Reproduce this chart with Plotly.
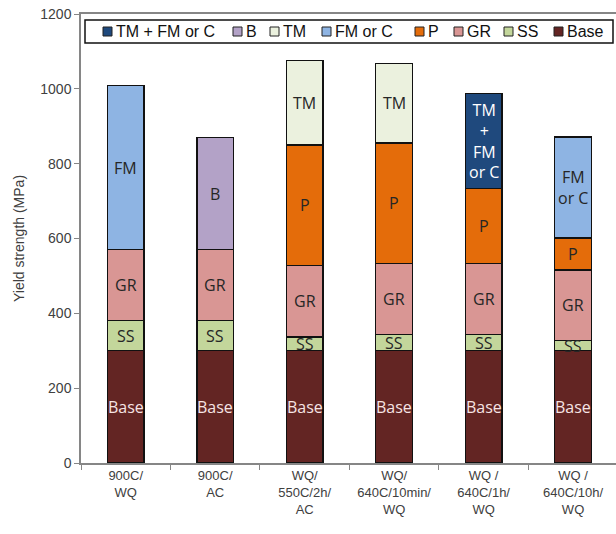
import plotly.graph_objects as go

# Heat-treatment conditions (x categories)
categories = [
    "900C/<br>WQ",
    "900C/<br>AC",
    "WQ/<br>550C/2h/<br>AC",
    "WQ/<br>640C/10min/<br>WQ",
    "WQ /<br>640C/1h/<br>WQ",
    "WQ /<br>640C/10h/<br>WQ",
]

# Strength contributions (MPa), stacked bottom to top
base = [300, 300, 300, 300, 300, 300]
ss = [80, 80, 37, 44, 44, 27]
gr = [190, 190, 190, 190, 190, 189]
p = [None, None, 323, 321, 200, 85]
fm_or_c = [438, None, None, None, None, 270]
tm = [None, None, 225, 212, None, None]
b = [None, 300, None, None, None, None]
tm_fm_or_c = [None, None, None, None, 253, None]

# In-bar segment labels
base_labels = ["Base"] * 6
ss_labels = ["SS"] * 6
gr_labels = ["GR"] * 6
p_labels = ["P"] * 6
fm_labels = ["FM", None, None, None, None, "FM<br>or C"]
tm_labels = ["TM"] * 6
b_labels = ["B"] * 6
tmfm_labels = ["TM<br>+<br>FM<br>or C"] * 6

# name, values, fill, labels, label colour
series = [
    ("Base", base, "#632523", base_labels, "#f6e4e4"),
    ("SS", ss, "#c3d69b", ss_labels, "#262626"),
    ("GR", gr, "#d99694", gr_labels, "#262626"),
    ("P", p, "#e46c0a", p_labels, "#262626"),
    ("FM or C", fm_or_c, "#8eb4e3", fm_labels, "#262626"),
    ("TM", tm, "#ebf1de", tm_labels, "#262626"),
    ("B", b, "#b3a2c7", b_labels, "#262626"),
    ("TM + FM or C", tm_fm_or_c, "#1f497d", tmfm_labels, "#ffffff"),
]

# Figure geometry (px)
W, H = 616, 534
M_L, M_R, M_T, M_B = 81, 0, 14, 71
PW, PH = W - M_L - M_R, H - M_T - M_B


def px_x(px):
    return (px - M_L) / PW


def px_y(py):
    return 1 - (py - M_T) / PH


fig = go.Figure()
annotations = []
shapes = []
bottoms = [0.0] * len(categories)

for name, vals, color, labels, lcolor in series:
    fig.add_trace(go.Bar(
        name=name,
        x=categories,
        y=vals,
        marker=dict(color=color, line=dict(color="#111111", width=1.3)),
        showlegend=False,
        hoverinfo="skip",
    ))
    for i, v in enumerate(vals):
        if v is None:
            continue
        if labels[i]:
            annotations.append(dict(
                x=categories[i], y=bottoms[i] + v / 2,
                xref="x", yref="y", text=labels[i], showarrow=False,
                font=dict(family="Open Sans", size=16, color=lcolor),
            ))
        bottoms[i] += v

# Single-row key along the top of the plot, listed top-of-stack first
legend_box = (85, 20, 613, 43)
key_left = [103, 233, 270, 322, 415, 454, 504, 554]
key_size = 9
key_mid = (legend_box[1] + legend_box[3]) / 2

shapes.append(dict(
    type="rect", xref="paper", yref="paper",
    x0=px_x(legend_box[0]), x1=px_x(legend_box[2]),
    y0=px_y(legend_box[3]), y1=px_y(legend_box[1]),
    line=dict(color="#111111", width=1.5), fillcolor="white", layer="above",
))
for (name, _, color, _, _), kx in zip(reversed(series), key_left):
    shapes.append(dict(
        type="rect", xref="paper", yref="paper",
        x0=px_x(kx), x1=px_x(kx + key_size),
        y0=px_y(key_mid + key_size / 2), y1=px_y(key_mid - key_size / 2),
        line=dict(color="#222222", width=1), fillcolor=color, layer="above",
    ))
    annotations.append(dict(
        x=px_x(kx + key_size + 2), y=px_y(key_mid), xref="paper", yref="paper",
        xanchor="left", yanchor="middle", text=name, showarrow=False,
        font=dict(family="Liberation Sans, Arial", size=16, color="#111111"),
    ))

tick_font = dict(family="Liberation Sans, Arial", size=13, color="#404040")

fig.update_layout(
    width=W, height=H,
    margin=dict(l=M_L, r=M_R, t=M_T, b=M_B, autoexpand=False),
    paper_bgcolor="white", plot_bgcolor="white",
    barmode="stack", bargap=0.59,
    showlegend=False,
    annotations=annotations,
    shapes=shapes,
    xaxis=dict(
        range=[-0.5, 5.48], tickson="boundaries", ticks="outside", ticklen=5,
        tickcolor="#868686", showline=True, linecolor="#868686", linewidth=1.5,
        mirror=True, tickfont=tick_font, showgrid=False, zeroline=False,
    ),
    yaxis=dict(
        range=[0, 1200], tickvals=[0, 200, 400, 600, 800, 1000, 1200],
        ticks="outside", ticklen=5, tickcolor="#868686",
        showline=True, linecolor="#868686", linewidth=1.5,
        tickfont=dict(family="Liberation Sans, Arial", size=14, color="#404040"),
        showgrid=False, zeroline=False,
        title=dict(text="Yield strength (MPa)", standoff=12,
                   font=dict(family="Liberation Sans, Arial", size=14, color="#404040")),
    ),
)

fig.write_html("out.html")
